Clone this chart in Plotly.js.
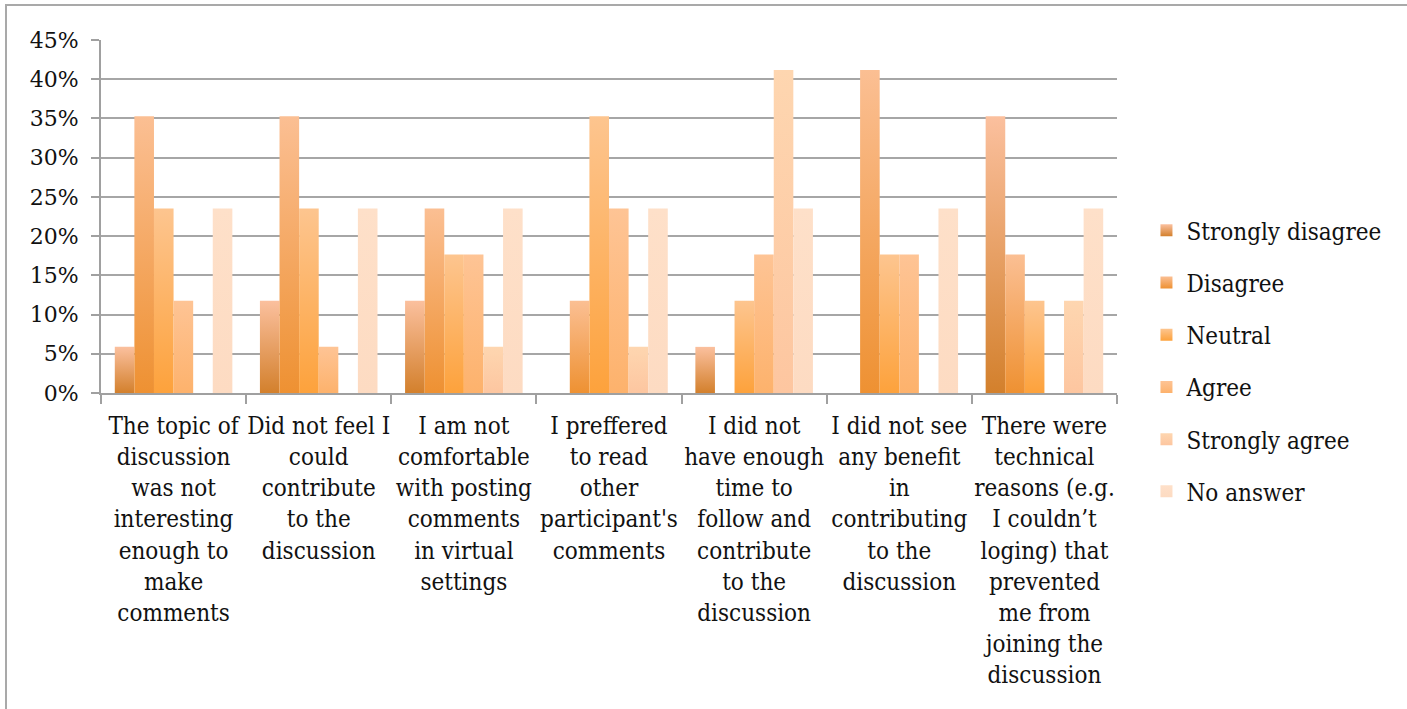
<!DOCTYPE html>
<html>
<head>
<meta charset="utf-8">
<script src="https://cdn.plot.ly/plotly-3.0.1.min.js"></script>
<style>
  html, body { margin: 0; padding: 0; background: #fff; overflow: hidden; }
  #frame { position: absolute; left: 5px; top: 4px; width: 1500px; height: 800px;
           border-left: 2px solid #a9a9a9; border-top: 2px solid #a9a9a9; pointer-events: none; z-index: 5; }
  #chart { width: 1407px; height: 709px; }
</style>
</head>
<body>
<div id="frame"></div>
<div id="chart"></div>
<script>
const categories = [
  "The topic of<br>discussion<br>was not<br>interesting<br>enough to<br>make<br>comments",
  "Did not feel I<br>could<br>contribute<br>to the<br>discussion",
  "I am not<br>comfortable<br>with posting<br>comments<br>in virtual<br>settings",
  "I preffered<br>to read<br>other<br>participant's<br>comments",
  "I did not<br>have enough<br>time to<br>follow and<br>contribute<br>to the<br>discussion",
  "I did not see<br>any benefit<br>in<br>contributing<br>to the<br>discussion",
  "There were<br>technical<br>reasons (e.g.<br>I couldn’t<br>loging) that<br>prevented<br>me from<br>joining the<br>discussion"
];
const seriesNames = ["Strongly disagree", "Disagree", "Neutral", "Agree", "Strongly agree", "No answer"];
const stronglyDisagree = [0.0588, 0.1176, 0.1176, 0,      0.0588, 0,      0.3529];
const disagree         = [0.3529, 0.3529, 0.2353, 0.1176, 0,      0.4118, 0.1765];
const neutral          = [0.2353, 0.2353, 0.1765, 0.3529, 0.1176, 0.1765, 0.1176];
const agree            = [0.1176, 0.0588, 0.1765, 0.2353, 0.1765, 0.1765, 0];
const stronglyAgree    = [0,      0,      0.0588, 0.0588, 0.4118, 0,      0.1176];
const noAnswer         = [0.2353, 0.2353, 0.2353, 0.2353, 0.2353, 0.2353, 0.2353];
const seriesValues = [stronglyDisagree, disagree, neutral, agree, stronglyAgree, noAnswer];
const seriesColors = ["#e49c5e", "#f4a35a", "#fcb060", "#fdbb82", "#fecfaa", "#fedfc8"];
const gradTop      = ["#fbc09e", "#fbbf93", "#fdc58f", "#fec495", "#fed6b0", "#fee0c9"];
const gradBottom   = ["#d3802c", "#ee9132", "#fda23c", "#fdb26c", "#fdc6a0", "#fddbc2"];

const FONT = "DejaVu Serif Condensed, DejaVu Serif, Liberation Serif, serif";
const FONT_Y = "DejaVu Serif, Liberation Serif, serif";
const FS = 24;

const traces = seriesNames.map((name, i) => ({
  type: "bar",
  name: name,
  x: categories,
  y: seriesValues[i],
  marker: { color: seriesColors[i] },
  legendgroup: "g" + i,
  hoverinfo: "none"
}));

const layout = {
  width: 1407, height: 709,
  margin: { l: 101, r: 290, t: 40, b: 316 },
  paper_bgcolor: "#ffffff", plot_bgcolor: "#ffffff",
  font: { family: FONT, size: FS, color: "#111111" },
  barmode: "group", bargap: 0.19, bargroupgap: 0,
  showlegend: true,
  legend: {
    x: 1.029, xanchor: "left", y: 0.09, yanchor: "middle",
    font: { family: FONT, size: FS, color: "#111111" },
    tracegroupgap: 18, itemwidth: 30, bgcolor: "rgba(0,0,0,0)"
  },
  xaxis: {
    type: "category",
    showline: true, linecolor: "#a0a0a0", linewidth: 2,
    ticks: "outside", tickson: "boundaries", ticklen: 9, tickwidth: 2, tickcolor: "#a0a0a0",
    showgrid: false, tickangle: 0, ticklabelstandoff: 10,
    tickfont: { family: FONT, size: FS, color: "#111111" },
    automargin: false
  },
  yaxis: {
    range: [0, 0.45], dtick: 0.05, tick0: 0, tickformat: ".0%",
    showline: true, linecolor: "#a0a0a0", linewidth: 2,
    ticks: "outside", ticklen: 8, tickwidth: 2, tickcolor: "#a0a0a0",
    showgrid: true, gridcolor: "#a6a6a6", gridwidth: 2,
    zeroline: false, ticklabelstandoff: 8,
    tickfont: { family: FONT_Y, size: 22, color: "#111111" },
    automargin: false
  }
};

Plotly.newPlot("chart", traces, layout, { displayModeBar: false, staticPlot: true }).then(gd => {
  const svg = gd.querySelector(".main-svg");
  const NS = "http://www.w3.org/2000/svg";
  let defs = svg.querySelector("defs");
  if (!defs) { defs = document.createElementNS(NS, "defs"); svg.insertBefore(defs, svg.firstChild); }
  seriesNames.forEach((n, i) => {
    const g = document.createElementNS(NS, "linearGradient");
    g.setAttribute("id", "bargrad" + i);
    g.setAttribute("x1", "0"); g.setAttribute("y1", "0");
    g.setAttribute("x2", "0"); g.setAttribute("y2", "1");
    [[0, gradTop[i]], [1, gradBottom[i]]].forEach(([o, c]) => {
      const s = document.createElementNS(NS, "stop");
      s.setAttribute("offset", o); s.setAttribute("stop-color", c);
      g.appendChild(s);
    });
    defs.appendChild(g);
  });
  gd.querySelectorAll(".barlayer .trace.bars").forEach((t, i) => {
    t.querySelectorAll("path").forEach(p => { p.style.fill = "url(#bargrad" + i + ")"; });
  });
  gd.querySelectorAll(".legend .traces").forEach((t, i) => {
    t.querySelectorAll(".legendpoints path").forEach(p => { p.style.fill = "url(#bargrad" + i + ")"; });
  });
});
</script>
</body>
</html>
